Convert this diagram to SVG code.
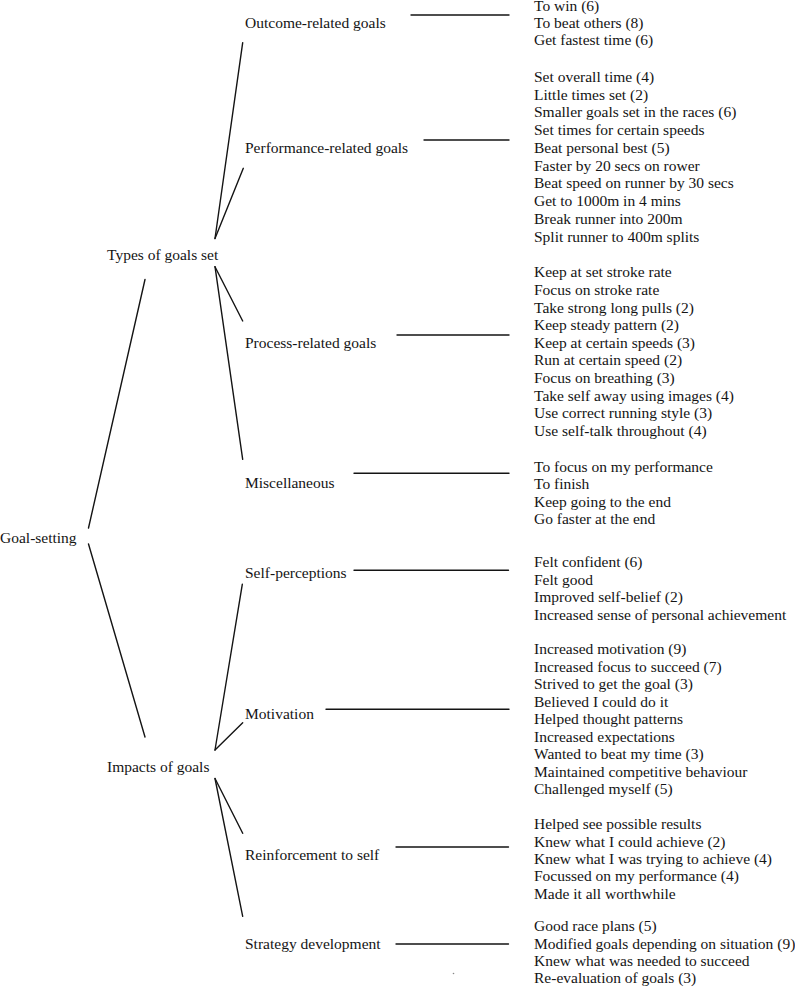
<svg xmlns="http://www.w3.org/2000/svg" width="795" height="988" viewBox="0 0 795 988">
<style>
text{font-family:"Liberation Serif","Times New Roman",serif;font-size:15.5px;fill:#141414}
.c line{stroke:#141414;stroke-width:1.4;stroke-linecap:round}
</style>
<rect width="795" height="988" fill="#fff"/>
<g class="c" id="connectors">
<line x1="88.5" y1="528" x2="145" y2="279.5"/>
<line x1="88.5" y1="544" x2="145" y2="737"/>
<line x1="215" y1="238.5" x2="242.7" y2="42.7"/>
<line x1="215" y1="238.5" x2="243.3" y2="168.3"/>
<line x1="215" y1="266.7" x2="242.7" y2="321"/>
<line x1="215" y1="266.7" x2="242.7" y2="459.3"/>
<line x1="215" y1="750" x2="242.3" y2="584.3"/>
<line x1="215" y1="750" x2="242.7" y2="722.7"/>
<line x1="215" y1="778.5" x2="242.7" y2="833.3"/>
<line x1="215" y1="778.5" x2="242.7" y2="916.3"/>
<line x1="411" y1="15" x2="509" y2="15"/>
<line x1="424" y1="140" x2="509" y2="140"/>
<line x1="397" y1="335" x2="509" y2="335"/>
<line x1="354" y1="473.3" x2="509" y2="473.3"/>
<line x1="354" y1="570.3" x2="508.5" y2="570.3"/>
<line x1="326" y1="709.3" x2="509" y2="709.3"/>
<line x1="396" y1="847" x2="508.5" y2="847"/>
<line x1="396" y1="944" x2="508.5" y2="944"/>
</g>
<g id="goal-setting"><text x="0" y="542.7">Goal-setting</text></g>
<g id="types-of-goals"><text x="107" y="260">Types of goals set</text></g>
<g id="impacts-of-goals"><text x="107" y="772.3">Impacts of goals</text></g>
<g id="outcome">
<text x="245" y="27.7">Outcome-related goals</text>
<text x="534">
<tspan x="534" y="11">To win (6)</tspan>
<tspan x="534" y="28">To beat others (8)</tspan>
<tspan x="534" y="45.3">Get fastest time (6)</tspan>
</text>
</g>
<g id="performance">
<text x="245" y="152.7">Performance-related goals</text>
<text x="534">
<tspan x="534" y="81.7">Set overall time (4)</tspan>
<tspan x="534" y="99.5">Little times set (2)</tspan>
<tspan x="534" y="117.3">Smaller goals set in the races (6)</tspan>
<tspan x="534" y="135">Set times for certain speeds</tspan>
<tspan x="534" y="152.8">Beat personal best (5)</tspan>
<tspan x="534" y="170.6">Faster by 20 secs on rower</tspan>
<tspan x="534" y="188.3">Beat speed on runner by 30 secs</tspan>
<tspan x="534" y="206">Get to 1000m in 4 mins</tspan>
<tspan x="534" y="223.8">Break runner into 200m</tspan>
<tspan x="534" y="241.6">Split runner to 400m splits</tspan>
</text>
</g>
<g id="process">
<text x="245" y="347.7">Process-related goals</text>
<text x="534">
<tspan x="534" y="277.3">Keep at set stroke rate</tspan>
<tspan x="534" y="295">Focus on stroke rate</tspan>
<tspan x="534" y="312.6">Take strong long pulls (2)</tspan>
<tspan x="534" y="330.2">Keep steady pattern (2)</tspan>
<tspan x="534" y="347.8">Keep at certain speeds (3)</tspan>
<tspan x="534" y="365.4">Run at certain speed (2)</tspan>
<tspan x="534" y="383">Focus on breathing (3)</tspan>
<tspan x="534" y="400.6">Take self away using images (4)</tspan>
<tspan x="534" y="418.3">Use correct running style (3)</tspan>
<tspan x="534" y="436">Use self-talk throughout (4)</tspan>
</text>
</g>
<g id="miscellaneous">
<text x="245" y="488.3">Miscellaneous</text>
<text x="534">
<tspan x="534" y="471.7">To focus on my performance</tspan>
<tspan x="534" y="489.3">To finish</tspan>
<tspan x="534" y="506.8">Keep going to the end</tspan>
<tspan x="534" y="524.3">Go faster at the end</tspan>
</text>
</g>
<g id="self-perceptions">
<text x="245" y="577.7">Self-perceptions</text>
<text x="534">
<tspan x="534" y="567">Felt confident (6)</tspan>
<tspan x="534" y="584.7">Felt good</tspan>
<tspan x="534" y="602.4">Improved self-belief (2)</tspan>
<tspan x="534" y="620">Increased sense of personal achievement</tspan>
</text>
</g>
<g id="motivation">
<text x="245" y="719">Motivation</text>
<text x="534">
<tspan x="534" y="654.3">Increased motivation (9)</tspan>
<tspan x="534" y="671.8">Increased focus to succeed (7)</tspan>
<tspan x="534" y="689.3">Strived to get the goal (3)</tspan>
<tspan x="534" y="706.8">Believed I could do it</tspan>
<tspan x="534" y="724.3">Helped thought patterns</tspan>
<tspan x="534" y="741.8">Increased expectations</tspan>
<tspan x="534" y="759.3">Wanted to beat my time (3)</tspan>
<tspan x="534" y="776.7">Maintained competitive behaviour</tspan>
<tspan x="534" y="794.2">Challenged myself (5)</tspan>
</text>
</g>
<g id="reinforcement">
<text x="245" y="860.3">Reinforcement to self</text>
<text x="534">
<tspan x="534" y="829">Helped see possible results</tspan>
<tspan x="534" y="846.5">Knew what I could achieve (2)</tspan>
<tspan x="534" y="864">Knew what I was trying to achieve (4)</tspan>
<tspan x="534" y="881.4">Focussed on my performance (4)</tspan>
<tspan x="534" y="898.8">Made it all worthwhile</tspan>
</text>
</g>
<g id="strategy">
<text x="245" y="949">Strategy development</text>
<text x="534">
<tspan x="534" y="931">Good race plans (5)</tspan>
<tspan x="534" y="948.5">Modified goals depending on situation (9)</tspan>
<tspan x="534" y="966">Knew what was needed to succeed</tspan>
<tspan x="534" y="983.4">Re-evaluation of goals (3)</tspan>
</text>
</g>
<circle cx="453.5" cy="973.5" r="0.8" fill="#888"/>
</svg>
